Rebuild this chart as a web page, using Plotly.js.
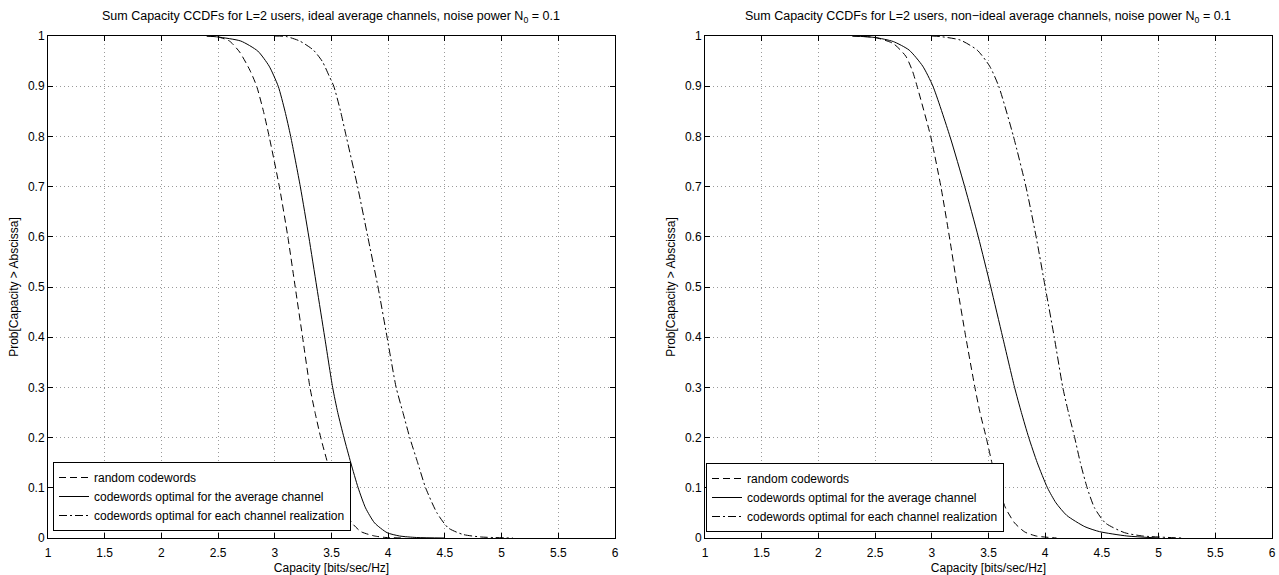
<!DOCTYPE html>
<html>
<head>
<meta charset="utf-8">
<script src="https://cdn.plot.ly/plotly-3.0.1.min.js"></script>
<style>html,body{margin:0;padding:0;background:#fff;}#chart{width:1279px;height:575px;}</style>
</head>
<body>
<div id="chart"></div>
<script>
// ---- data ----
const xTicks = [1, 1.5, 2, 2.5, 3, 3.5, 4, 4.5, 5, 5.5, 6];
const yTicks = [0, 0.1, 0.2, 0.3, 0.4, 0.5, 0.6, 0.7, 0.8, 0.9, 1];
const seriesNames = ["random codewords", "codewords optimal for the average channel", "codewords optimal for each channel realization"];
const titleLeft = "Sum Capacity CCDFs for L=2 users, ideal average channels, noise power N<sub>0</sub> = 0.1";
const titleRight = "Sum Capacity CCDFs for L=2 users, non\u2212ideal average channels, noise power N<sub>0</sub> = 0.1";
const xTitle = "Capacity [bits/sec/Hz]";
const yTitle = "Prob[Capacity > Abscissa]";

// Left plot (ideal average channels)
const idealRandomX = [2.4, 2.5, 2.6, 2.69, 2.78, 2.84, 2.90, 2.95, 3.04, 3.115, 3.18, 3.245, 3.31, 3.355, 3.405, 3.465, 3.53, 3.60, 3.68, 3.76, 3.88, 3.98, 4.15];
const idealRandomY = [1, 0.998, 0.99, 0.968, 0.932, 0.9, 0.85, 0.8, 0.7, 0.6, 0.5, 0.4, 0.3, 0.25, 0.2, 0.15, 0.1, 0.06, 0.03, 0.0126, 0.004, 0.001, 0];
const idealAvgX = [2.4, 2.5, 2.70, 2.85, 2.95, 3.03, 3.09, 3.14, 3.225, 3.30, 3.37, 3.44, 3.51, 3.555, 3.61, 3.67, 3.735, 3.80, 3.88, 3.99, 4.10, 4.25, 4.5];
const idealAvgY = [1, 0.998, 0.99, 0.97, 0.94, 0.9, 0.85, 0.8, 0.7, 0.6, 0.5, 0.4, 0.3, 0.25, 0.2, 0.15, 0.1, 0.06, 0.03, 0.0106, 0.004, 0.001, 0];
const idealEachX = [3.0, 3.1, 3.22, 3.34, 3.42, 3.48, 3.52, 3.58, 3.63, 3.73, 3.82, 3.91, 3.99, 4.07, 4.13, 4.19, 4.26, 4.33, 4.43, 4.53, 4.66, 4.82, 5.1];
const idealEachY = [1, 0.999, 0.99, 0.972, 0.949, 0.92, 0.9, 0.85, 0.8, 0.7, 0.6, 0.5, 0.4, 0.3, 0.25, 0.2, 0.15, 0.1, 0.05, 0.02, 0.007, 0.002, 0];

// Right plot (non-ideal average channels)
const nonIdealRandomX = [2.3, 2.5, 2.66, 2.77, 2.83, 2.87, 2.99, 3.08, 3.155, 3.225, 3.30, 3.38, 3.425, 3.48, 3.53, 3.59, 3.65, 3.73, 3.82, 3.92, 4.1];
const nonIdealRandomY = [1, 0.997, 0.985, 0.96, 0.93, 0.9, 0.8, 0.7, 0.6, 0.5, 0.4, 0.3, 0.25, 0.2, 0.15, 0.1, 0.06, 0.03, 0.012, 0.004, 0];
const nonIdealAvgX = [2.3, 2.5, 2.66, 2.80, 2.92, 3.01, 3.16, 3.29, 3.41, 3.52, 3.625, 3.73, 3.79, 3.855, 3.93, 4.02, 4.095, 4.19, 4.35, 4.48, 4.72, 5.0];
const nonIdealAvgY = [1, 0.997, 0.989, 0.972, 0.94, 0.9, 0.8, 0.7, 0.6, 0.5, 0.4, 0.3, 0.25, 0.2, 0.15, 0.1, 0.07, 0.045, 0.0225, 0.0126, 0.004, 0];
const nonIdealEachX = [3.0, 3.07, 3.25, 3.40, 3.51, 3.59, 3.72, 3.83, 3.92, 4.0, 4.08, 4.155, 4.205, 4.26, 4.31, 4.37, 4.435, 4.53, 4.70, 4.86, 5.2];
const nonIdealEachY = [1, 0.999, 0.992, 0.972, 0.94, 0.9, 0.8, 0.7, 0.6, 0.5, 0.4, 0.3, 0.25, 0.2, 0.15, 0.1, 0.06, 0.03, 0.0106, 0.004, 0];

// ---- styling ----
const FONT = "Liberation Sans, Arial, Helvetica, sans-serif";
const dashes = ["7px,4px", "solid", "8px,3px,2px,3px"];
function mk(x, y, i, xa, ya, lg) {
  return {
    x: x, y: y, type: "scatter", mode: "lines", name: seriesNames[i],
    xaxis: xa, yaxis: ya, legend: lg,
    line: {color: "black", width: 1, dash: dashes[i], shape: "spline", smoothing: 0.6},
    hoverinfo: "x+y"
  };
}
const data = [
  mk(idealRandomX, idealRandomY, 0, "x", "y", "legend"),
  mk(idealAvgX, idealAvgY, 1, "x", "y", "legend"),
  mk(idealEachX, idealEachY, 2, "x", "y", "legend"),
  mk(nonIdealRandomX, nonIdealRandomY, 0, "x2", "y2", "legend2"),
  mk(nonIdealAvgX, nonIdealAvgY, 1, "x2", "y2", "legend2"),
  mk(nonIdealEachX, nonIdealEachY, 2, "x2", "y2", "legend2")
];

const W = 1279, H = 575;
const px = v => v / W, py = v => (H - v) / H;
const GRID = "#9a9a9a";
function xax(dom, anchor) {
  return {
    domain: dom, anchor: anchor, range: [1, 6], tickvals: xTicks, ticktext: xTicks.map(String),
    showgrid: true, gridcolor: GRID, griddash: "1px,3px", gridwidth: 1,
    showline: true, linecolor: "black", linewidth: 1, mirror: "ticks",
    ticks: "inside", ticklen: 5, tickcolor: "black", zeroline: false,
    ticklabelstandoff: 4,
    tickfont: {family: FONT, size: 12, color: "black"},
    title: {text: xTitle, font: {family: FONT, size: 12, color: "black"}, standoff: 6},
    automargin: false
  };
}
function yax(anchor) {
  return {
    domain: [py(538), py(36)], anchor: anchor, range: [0, 1], tickvals: yTicks, ticktext: yTicks.map(String),
    showgrid: true, gridcolor: GRID, griddash: "1px,3px", gridwidth: 1,
    showline: true, linecolor: "black", linewidth: 1, mirror: "ticks",
    ticks: "inside", ticklen: 5, tickcolor: "black", zeroline: false,
    tickfont: {family: FONT, size: 12, color: "black"},
    title: {text: yTitle, font: {family: FONT, size: 12, color: "black"}, standoff: 6},
    automargin: false
  };
}
const legendBase = {
  bgcolor: "white", bordercolor: "black", borderwidth: 1,
  font: {family: FONT, size: 12, color: "black"},
  xanchor: "left", yanchor: "bottom", tracegroupgap: 0, itemwidth: 30
};
const layout = {
  width: W, height: H,
  margin: {l: 0, r: 0, t: 0, b: 0},
  paper_bgcolor: "white", plot_bgcolor: "white",
  showlegend: true,
  xaxis: xax([px(48), px(615)], "y"),
  yaxis: yax("x"),
  xaxis2: xax([px(705), px(1272)], "y2"),
  yaxis2: yax("x2"),
  legend: Object.assign({x: px(53), y: py(531)}, legendBase),
  legend2: Object.assign({x: px(706), y: py(532)}, legendBase),
  annotations: [
    {text: titleLeft, xref: "paper", yref: "paper", x: px(331), y: py(17), xanchor: "center", yanchor: "middle",
     showarrow: false, font: {family: FONT, size: 12.5, color: "black"}},
    {text: titleRight, xref: "paper", yref: "paper", x: px(988), y: py(17), xanchor: "center", yanchor: "middle",
     showarrow: false, font: {family: FONT, size: 12.5, color: "black"}}
  ]
};
Plotly.newPlot("chart", data, layout, {displayModeBar: false, staticPlot: true});
</script>
</body>
</html>
